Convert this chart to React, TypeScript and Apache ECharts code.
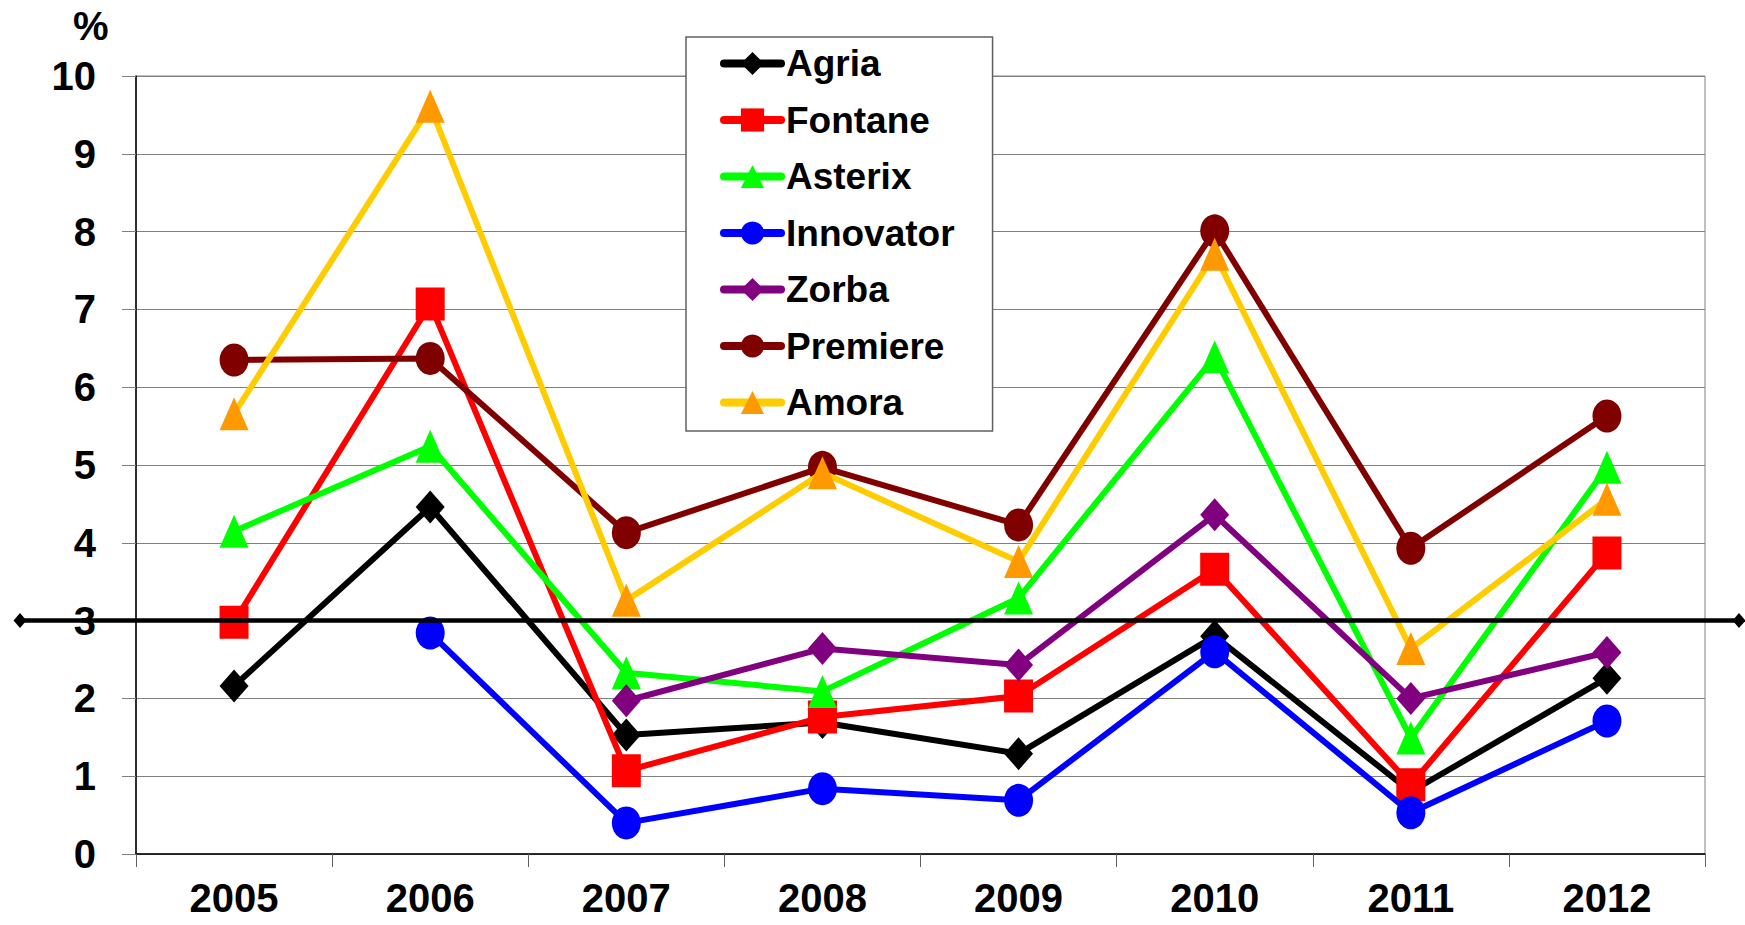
import React, { useEffect, useRef } from "react";
import * as echarts from "echarts";

const years = ["2005", "2006", "2007", "2008", "2009", "2010", "2011", "2012"];
const agria = [2.16, 4.46, 1.53, 1.69, 1.29, 2.8, 0.8, 2.26];
const fontane = [2.98, 7.07, 1.07, 1.76, 2.03, 3.66, 0.89, 3.87];
const asterix = [4.15, 5.24, 2.33, 2.09, 3.29, 6.39, 1.49, 4.97];
const innovator = [null, 2.84, 0.4, 0.84, 0.69, 2.6, 0.53, 1.71];
const zorba = [null, null, 1.97, 2.64, 2.43, 4.36, 2.0, 2.59];
const premiere = [6.35, 6.37, 4.13, 4.97, 4.23, 8.01, 3.93, 5.63];
const amora = [5.66, 9.61, 3.26, 4.9, 3.76, 7.71, 2.64, 4.56];
const yTicks = [0, 1, 2, 3, 4, 5, 6, 7, 8, 9, 10];
const thresholdValue = 3;

const FONT = "'Liberation Sans', Arial, sans-serif";

type Spec = {
  name: string;
  data: (number | null)[];
  line: string;
  marker: string;
  symbol: string;
};

const specs: Spec[] = [
  { name: "Agria", data: agria, line: "#000000", marker: "#000000", symbol: "diamond" },
  { name: "Fontane", data: fontane, line: "#FF0000", marker: "#FF0000", symbol: "rect" },
  { name: "Asterix", data: asterix, line: "#00FF00", marker: "#00FF00", symbol: "triangle" },
  { name: "Innovator", data: innovator, line: "#0000FF", marker: "#0000FF", symbol: "circle" },
  { name: "Zorba", data: zorba, line: "#800080", marker: "#800080", symbol: "diamond" },
  { name: "Premiere", data: premiere, line: "#800000", marker: "#800000", symbol: "circle" },
  { name: "Amora", data: amora, line: "#FFCC00", marker: "#FF9900", symbol: "triangle" },
];

export default function App() {
  const ref = useRef<HTMLDivElement>(null);
  useEffect(() => {
    if (!ref.current) return;
    const chart = echarts.init(ref.current, null, { renderer: "svg" });
    const grid = { left: 136, right: 40, top: 76, bottom: 71 };
    const option: any = {
      animation: false,
      backgroundColor: "#ffffff",
      grid: [
        { ...grid, show: true, borderColor: "#808080", borderWidth: 1, backgroundColor: "transparent" },
        { left: 20, right: 6, top: 76, bottom: 71 },
      ],
      xAxis: [
        {
          type: "category",
          gridIndex: 0,
          data: years,
          boundaryGap: true,
          axisLine: { lineStyle: { color: "#000000", width: 1.5 } },
          axisTick: { show: true, length: 13, inside: false, lineStyle: { color: "#606060", width: 1 } },
          axisLabel: { fontFamily: FONT, fontWeight: "bold", fontSize: 40, color: "#000", margin: 24 },
          splitLine: { show: false },
        },
        { type: "value", gridIndex: 1, min: 0, max: 1, show: false },
      ],
      yAxis: [
        {
          type: "value",
          gridIndex: 0,
          min: yTicks[0],
          max: yTicks[yTicks.length - 1],
          interval: 1,
          axisLine: { show: true, lineStyle: { color: "#000000", width: 1.5 } },
          axisTick: { show: true, length: 14, lineStyle: { color: "#808080", width: 1 } },
          axisLabel: { fontFamily: FONT, fontWeight: "bold", fontSize: 40, color: "#000", margin: 40 },
          splitLine: { show: true, lineStyle: { color: "#808080", width: 1 } },
        },
        { type: "value", gridIndex: 1, min: 0, max: 10, show: false },
      ],
      legend: {
        data: specs.map((s) => s.name),
        orient: "vertical",
        left: 686,
        top: 37,
        padding: [8, 38, 10, 34],
        itemWidth: 57,
        itemHeight: 29,
        itemGap: 19.5,
        backgroundColor: "#ffffff",
        borderColor: "#606060",
        borderWidth: 1.5,
        borderRadius: 0,
        lineStyle: { width: 8, cap: "round" },
        textStyle: { fontFamily: FONT, fontWeight: "bold", fontSize: 37, lineHeight: 37, color: "#000" },
      },
      graphic: [
        {
          type: "text",
          left: 73,
          top: 6,
          style: { text: "%", fontFamily: FONT, fontWeight: "bold", fontSize: 40, fill: "#000" },
        },
      ],
      series: [
        ...specs.map((s, i) => ({
          name: s.name,
          type: "line",
          xAxisIndex: 0,
          yAxisIndex: 0,
          data: s.data,
          symbol: s.symbol,
          symbolSize: [29, 33],
          showSymbol: true,
          connectNulls: false,
          lineStyle: { color: s.line, width: 6 },
          itemStyle: { color: s.marker, borderWidth: 0 },
          z: 2 + i * 0.01,
        })),
        {
          name: "threshold",
          type: "line",
          xAxisIndex: 1,
          yAxisIndex: 1,
          data: [
            [0, thresholdValue],
            [1, thresholdValue],
          ],
          symbol: "diamond",
          symbolSize: [13, 15],
          lineStyle: { color: "#000000", width: 4.5 },
          itemStyle: { color: "#000000" },
          z: 5,
        },
      ],
    };
    chart.setOption(option);
    return () => chart.dispose();
  }, []);
  return (
    <div
      ref={ref}
      style={{ position: "fixed", left: 0, top: 0, width: 1745, height: 925, background: "#fff" }}
    />
  );
}
